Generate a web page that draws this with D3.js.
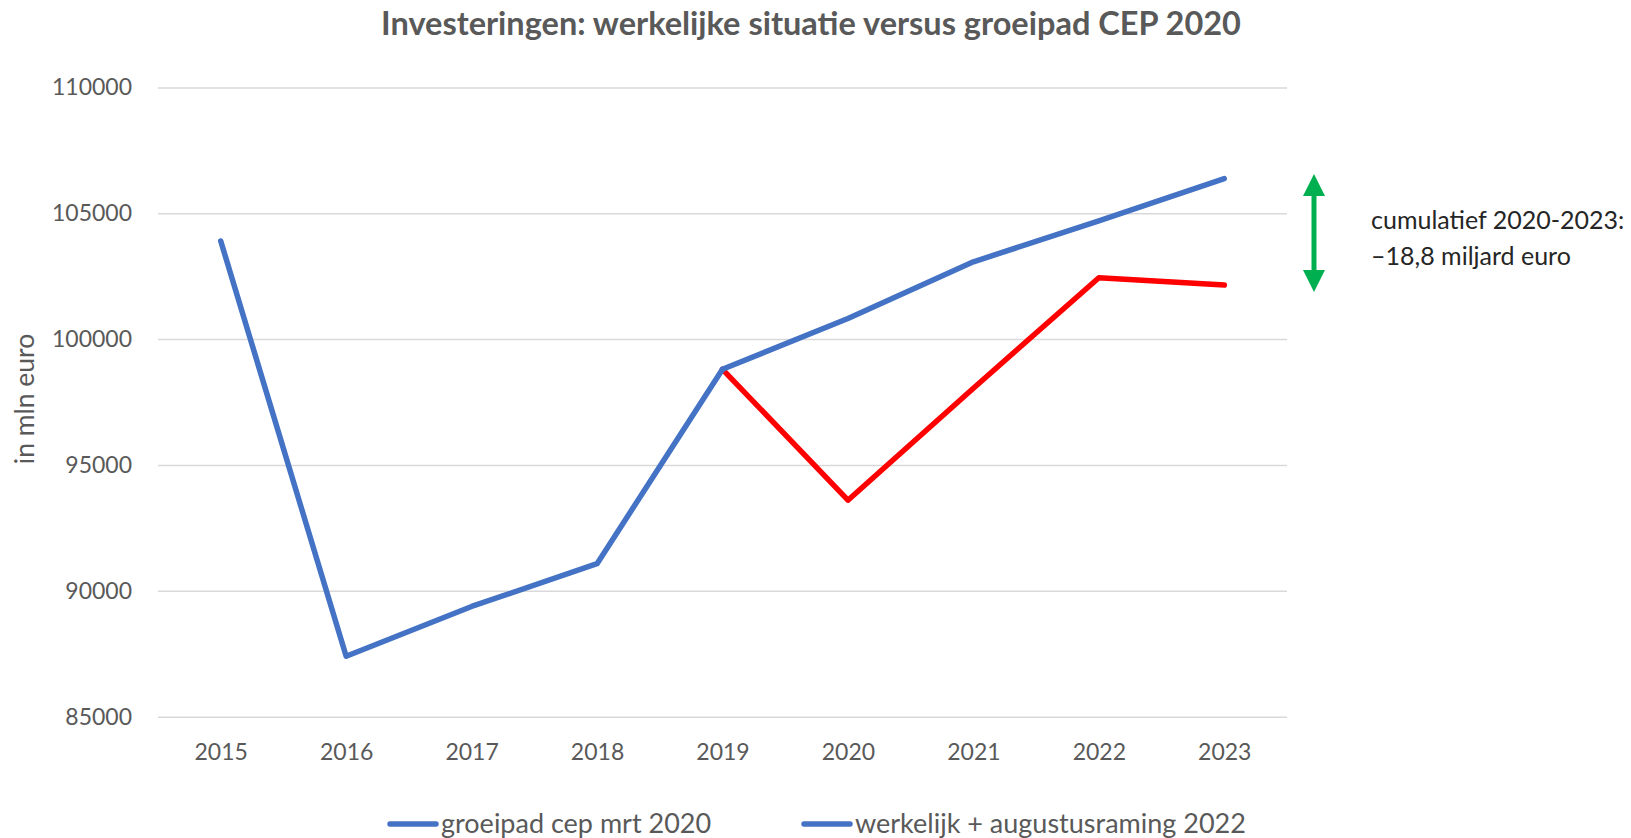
<!DOCTYPE html>
<html>
<head>
<meta charset="utf-8">
<script src="https://cdn.jsdelivr.net/npm/d3@7"></script>
<style>
  body { margin: 0; background: #fff; }
  svg { display: block; font-family: Lato, "Open Sans", sans-serif; }
  .tick text { fill: #595959; }
</style>
</head>
<body>
<svg></svg>
<script>
const years = ['2015', '2016', '2017', '2018', '2019', '2020', '2021', '2022', '2023'];
const groeipad = [null, null, null, null, 98800, 100820, 103070, 104700, 106380];
const werkelijk = [103900, 87400, 89380, 91080, 98800, 93600, 98050, 102440, 102150];
const yTicks = [85000, 90000, 95000, 100000, 105000, 110000];
const legendLabels = ['groeipad cep mrt 2020', 'werkelijk + augustusraming 2022'];
const splitYear = '2019';

const W = 1631, H = 838;
const margins = {t: 87.4, r: 344, b: 121.3, l: 158};
const size = {w: W - margins.l - margins.r, h: H - margins.t - margins.b};
const lineW = 5.5;

const svg = d3.select('svg')
    .attr('width', W)
    .attr('height', H);
const containerG = svg.append('g')
    .attr('transform', `translate(${margins.l}, ${margins.t})`);

const blue = '#4472C4', red = '#FF0000', green = '#00B050';

let scaleX = d3.scalePoint()
    .domain(years)
    .range([0, size.w])
    .padding(0.5);

let scaleY = d3.scaleLinear()
    .domain([85000, 110000])
    .range([size.h, 0]);

// gridlines + y labels
let axisY = d3.axisLeft(scaleY)
    .tickValues(yTicks)
    .tickSize(-size.w)
    .tickPadding(26)
    .tickFormat(d3.format('d'));
let axisYG = containerG.append('g')
    .classed('axis-y', true)
    .call(axisY);
axisYG.select('.domain').remove();
axisYG.selectAll('.tick line')
    .attr('stroke', '#D9D9D9')
    .attr('stroke-width', 1.5);
axisYG.selectAll('.tick text')
    .attr('font-size', 23)
    .attr('font-family', 'Lato, sans-serif');

let axisX = d3.axisBottom(scaleX).tickSize(0).tickPadding(27);
let axisXG = containerG.append('g')
    .classed('axis-x', true)
    .attr('transform', `translate(0, ${size.h})`)
    .call(axisX);
axisXG.select('.domain').remove();
axisXG.selectAll('.tick text')
    .attr('font-size', 23)
    .attr('font-family', 'Lato, sans-serif');

// lines
const line = d3.line()
    .defined(d => d.v != null)
    .x(d => scaleX(d.year))
    .y(d => scaleY(d.v));

const splitIdx = years.indexOf(splitYear);
const werk = years.map((y, i) => ({year: y, v: werkelijk[i]}));
const groei = years.map((y, i) => ({year: y, v: groeipad[i]}));

function drawLine(points, color) {
    containerG.append('path')
        .datum(points)
        .attr('d', line)
        .attr('fill', 'none')
        .attr('stroke', color)
        .attr('stroke-width', lineW)
        .attr('stroke-linejoin', 'round')
        .attr('stroke-linecap', 'round');
}
drawLine(werk.slice(splitIdx), red);
drawLine(werk.slice(0, splitIdx + 1), blue);
drawLine(groei, blue);

// title
svg.append('text')
    .attr('x', 811)
    .attr('y', 35)
    .attr('text-anchor', 'middle')
    .attr('font-size', 32.5)
    .attr('font-weight', 'bold')
    .attr('fill', '#595959')
    .text('Investeringen: werkelijke situatie versus groeipad CEP 2020');

// y axis title
svg.append('text')
    .attr('transform', 'translate(34, 399) rotate(-90)')
    .attr('text-anchor', 'middle')
    .attr('font-size', 26.5)
    .attr('fill', '#595959')
    .text('in mln euro');

// green double arrow
const arrowX = 1314, arrowTop = 174, arrowBot = 292, headH = 22, headW = 11;
svg.append('line')
    .attr('x1', arrowX).attr('x2', arrowX)
    .attr('y1', arrowTop + headH - 2).attr('y2', arrowBot - headH + 2)
    .attr('stroke', green)
    .attr('stroke-width', 5);
svg.append('path')
    .attr('d', `M${arrowX},${arrowTop} L${arrowX + headW},${arrowTop + headH} L${arrowX - headW},${arrowTop + headH} Z`)
    .attr('fill', green);
svg.append('path')
    .attr('d', `M${arrowX},${arrowBot} L${arrowX + headW},${arrowBot - headH} L${arrowX - headW},${arrowBot - headH} Z`)
    .attr('fill', green);

const note = svg.append('text')
    .attr('x', 1371)
    .attr('font-size', 25)
    .attr('fill', '#262626');
note.append('tspan').attr('x', 1371).attr('y', 229).text('cumulatief 2020-2023:');
note.append('tspan').attr('x', 1371).attr('y', 265).text('\u201318,8 miljard euro');

// legend
const legendX = [390, 804];
const legendG = svg.append('g')
    .attr('transform', 'translate(0, 824)');
legendLabels.forEach((lab, i) => {
    legendG.append('line')
        .attr('x1', legendX[i]).attr('x2', legendX[i] + 46)
        .attr('y1', 0).attr('y2', 0)
        .attr('stroke', blue)
        .attr('stroke-width', lineW)
        .attr('stroke-linecap', 'round');
    legendG.append('text')
        .attr('x', legendX[i] + 51)
        .attr('y', 9)
        .attr('font-size', 27)
        .attr('fill', '#595959')
        .text(lab);
});
</script>
</body>
</html>
